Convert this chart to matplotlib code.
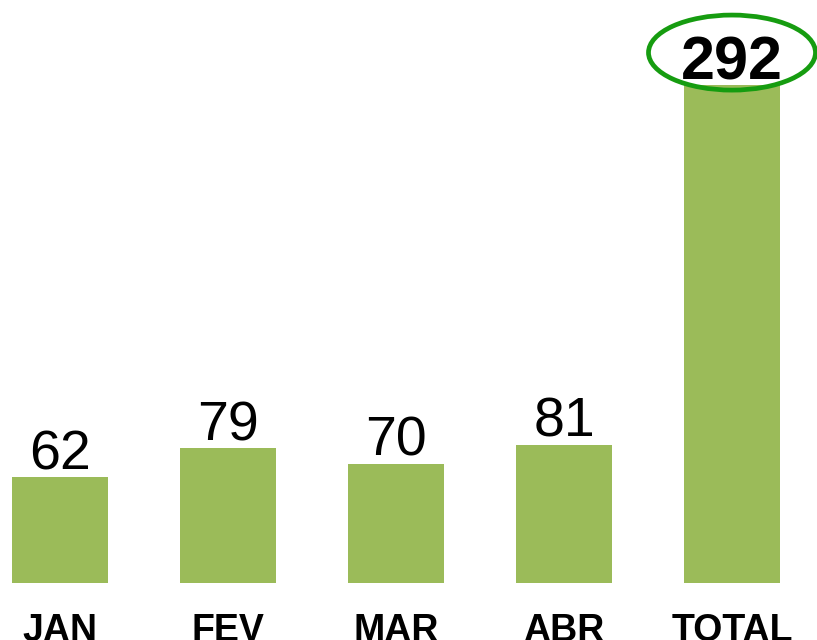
import matplotlib.pyplot as plt
from matplotlib.patches import Ellipse

months = ['JAN', 'FEV', 'MAR', 'ABR', 'TOTAL']
values = [62, 79, 70, 81, 292]

plt.rcParams['font.family'] = ['Liberation Sans', 'DejaVu Sans']

fig = plt.figure(figsize=(8.17, 6.4), dpi=100)
ax = fig.add_axes([0, 57 / 640, 1, 583 / 640])

x = list(range(len(months)))
ax.bar(x, values, width=96 / 168, color='#9BBB59')
ax.set_xlim(-60 / 168, (817 - 60) / 168)
ax.set_ylim(0, 583 / 1.7055)
ax.axis('off')

for i, v in enumerate(values):
    last = i == len(values) - 1
    ax.annotate(str(v), (i, v), xytext=(0, 3.6 if last else 5.8), textcoords='offset points',
                ha='center', va='baseline', fontsize=44 if last else 40,
                fontweight='bold' if last else 'normal', color='black')
    fig.text((60 + 168 * i) / 817, -0.002, months[i], ha='center', va='baseline',
             fontsize=27, fontweight='bold')

# green ring around the total
ax.add_patch(Ellipse((4, values[-1] + 19), 0.994, 44, fill=False,
                     edgecolor='#169c10', linewidth=3.4, clip_on=False))

fig.savefig('out.png', dpi=100)
